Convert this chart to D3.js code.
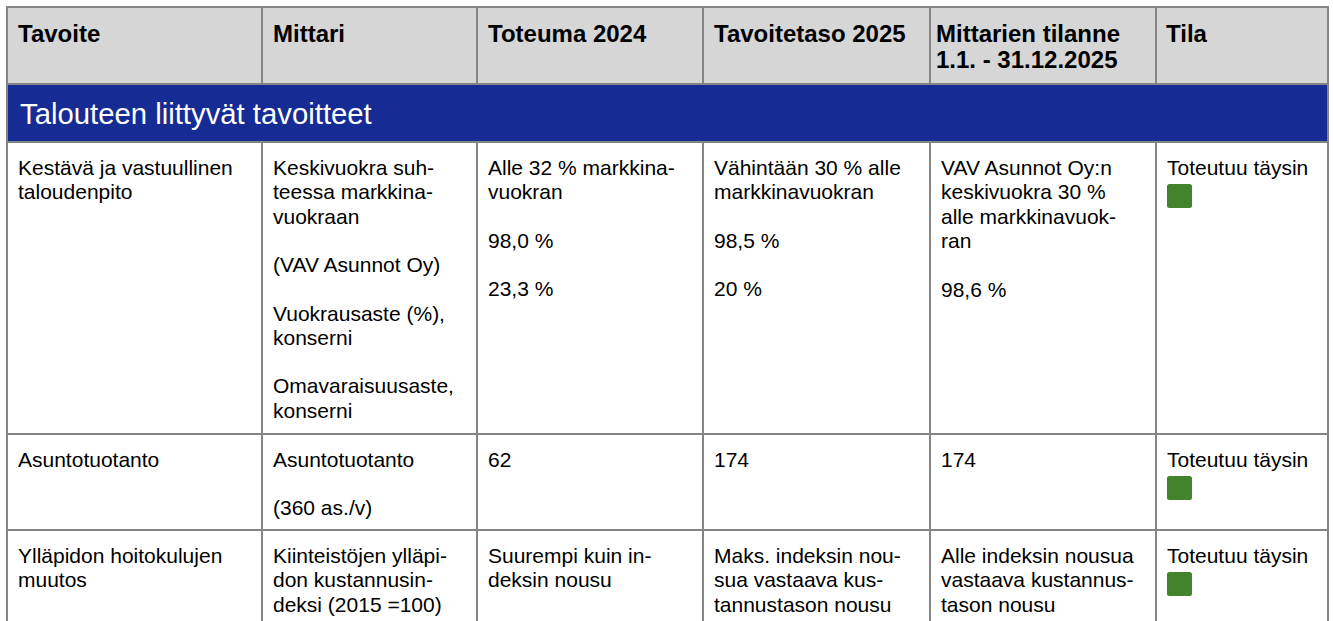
<!DOCTYPE html>
<html>
<head>
<meta charset="utf-8">
<script src="https://cdn.jsdelivr.net/npm/d3@7/dist/d3.min.js"></script>
<style>
html,body{margin:0;padding:0;background:#fff;}
svg{display:block;}
text{font-family:"Liberation Sans",Arial,Helvetica,sans-serif;fill:#000;}
</style>
</head>
<body>
<svg id="chart" width="1333" height="621"></svg>
<script>
// ---- data ----
const headers = [["Tavoite"],["Mittari"],["Toteuma 2024"],["Tavoitetaso 2025"],["Mittarien tilanne","1.1. - 31.12.2025"],["Tila"]];
const sectionTitle = "Talouteen liittyvät tavoitteet";
// each cell: list of paragraphs, each paragraph a list of lines
const goals = [
  [["Kestävä ja vastuullinen","taloudenpito"]],
  [["Asuntotuotanto"]],
  [["Ylläpidon hoitokulujen","muutos"]]
];
const metrics = [
  [["Keskivuokra suh-","teessa markkina-","vuokraan"],["(VAV Asunnot Oy)"],["Vuokrausaste (%),","konserni"],["Omavaraisuusaste,","konserni"]],
  [["Asuntotuotanto"],["(360 as./v)"]],
  [["Kiinteistöjen ylläpi-","don kustannusin-","deksi (2015 =100)"]]
];
const actual2024 = [
  [["Alle 32 % markkina-","vuokran"],["98,0 %"],["23,3 %"]],
  [["62"]],
  [["Suurempi kuin in-","deksin nousu"]]
];
const target2025 = [
  [["Vähintään 30 % alle","markkinavuokran"],["98,5 %"],["20 %"]],
  [["174"]],
  [["Maks. indeksin nou-","sua vastaava kus-","tannustason nousu"]]
];
const status2025 = [
  [["VAV Asunnot Oy:n","keskivuokra 30 %","alle markkinavuok-","ran"],["98,6 %"]],
  [["174"]],
  [["Alle indeksin nousua","vastaava kustannus-","tason nousu"]]
];
const stateLabels = ["Toteutuu täysin","Toteutuu täysin","Toteutuu täysin"];
const stateColors = ["#43832b","#43832b","#43832b"];

// ---- layout ----
const colEdges = [7, 262, 477, 703, 930, 1156, 1328];
const headerPad = [11, 11, 11, 11, 6, 10];
const rowEdges = [7, 84, 142, 434, 530, 640];
const border = "#858585";
const L = 24.4, G = 24;
const svg = d3.select("#chart");

const columns = [goals, metrics, actual2024, target2025, status2025];

// header background
svg.append("rect").attr("x",colEdges[0]).attr("y",rowEdges[0])
  .attr("width",colEdges[6]-colEdges[0]).attr("height",rowEdges[1]-rowEdges[0])
  .attr("fill","#d6d6d6");
// section band
svg.append("rect").attr("x",colEdges[0]).attr("y",rowEdges[1])
  .attr("width",colEdges[6]-colEdges[0]).attr("height",rowEdges[2]-rowEdges[1])
  .attr("fill","#172b94");

// header text
headers.forEach((h,i)=>{
  const t = svg.append("text").attr("font-size","24px").attr("font-weight","bold");
  h.forEach((line,j)=>{
    t.append("tspan").attr("x",colEdges[i]+headerPad[i]).attr("y",42+j*26).text(line);
  });
});

svg.append("text").attr("x",20).attr("y",124).attr("font-size","29.3px")
  .style("fill","#fff").text(sectionTitle);

// body rows
for(let r=0;r<3;r++){
  const top = rowEdges[r+2];
  columns.forEach((col,c)=>{
    const cell = col[r];
    let y = top + 33;
    const t = svg.append("text").attr("font-size","21px");
    cell.forEach((para,p)=>{
      if(p>0) y += G;
      para.forEach((line)=>{
        t.append("tspan").attr("x",colEdges[c]+11).attr("y",y).text(line);
        y += L;
      });
    });
  });
  // state cell
  svg.append("text").attr("font-size","21px").attr("x",colEdges[5]+11).attr("y",top+33).text(stateLabels[r]);
  svg.append("rect").attr("x",colEdges[5]+11).attr("y",top+42).attr("width",25).attr("height",24)
    .attr("rx",2.5).attr("fill",stateColors[r]);
}

// grid lines
const g = svg.append("g").attr("stroke",border).attr("stroke-width",2).attr("fill","none");
rowEdges.slice(0,5).forEach(y=>{
  g.append("line").attr("x1",colEdges[0]-1).attr("x2",colEdges[6]+1).attr("y1",y).attr("y2",y);
});
colEdges.forEach((x,i)=>{
  if(i===0 || i===6){
    g.append("line").attr("x1",x).attr("x2",x).attr("y1",rowEdges[0]).attr("y2",640);
  } else {
    g.append("line").attr("x1",x).attr("x2",x).attr("y1",rowEdges[0]).attr("y2",rowEdges[1]);
    g.append("line").attr("x1",x).attr("x2",x).attr("y1",rowEdges[2]).attr("y2",640);
  }
});
</script>
</body>
</html>
